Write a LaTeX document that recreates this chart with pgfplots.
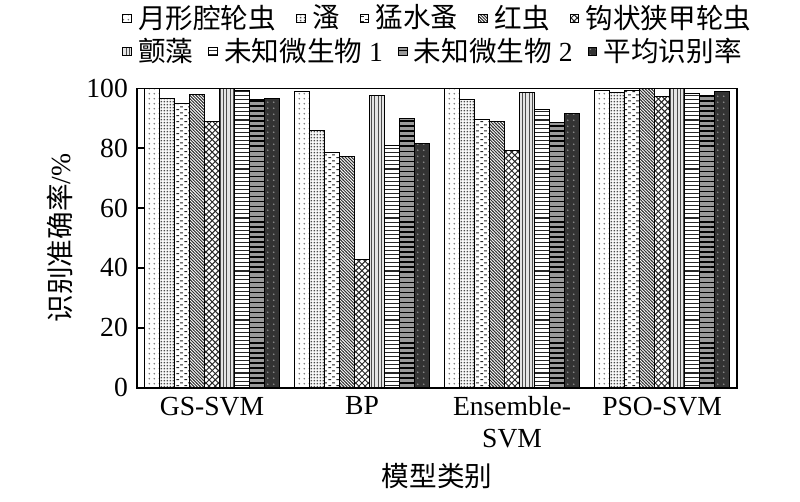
\documentclass[border=0pt,11pt]{standalone}
\usepackage{fontspec}
\setmainfont{Liberation Serif}
\newfontfamily\cjk{Noto Sans CJK SC}
\usepackage{pgfplots}
\pgfplotsset{compat=1.18}
\usetikzlibrary{patterns}

\pgfdeclarepatternformonly{pA}{\pgfqpoint{0pt}{0pt}}{\pgfqpoint{2.2pt}{2.2pt}}{\pgfqpoint{2.2pt}{2.2pt}}{\pgfpathcircle{\pgfqpoint{1.1pt}{1.1pt}}{0.4pt}\pgfusepath{fill}}
\pgfdeclarepatternformonly{pB}{\pgfqpoint{0pt}{0pt}}{\pgfqpoint{1.4pt}{1.4pt}}{\pgfqpoint{1.4pt}{1.4pt}}{\pgfpathrectangle{\pgfqpoint{0.35pt}{0.35pt}}{\pgfqpoint{0.7pt}{0.7pt}}\pgfusepath{fill}}
\pgfdeclarepatternformonly{pC}{\pgfqpoint{0pt}{0pt}}{\pgfqpoint{3.2pt}{2.4pt}}{\pgfqpoint{3.2pt}{2.4pt}}{\pgfsetlinewidth{0.45pt}\pgfpathmoveto{\pgfqpoint{0.2pt}{0.6pt}}\pgfpathlineto{\pgfqpoint{1.4pt}{0.6pt}}\pgfpathmoveto{\pgfqpoint{1.8pt}{1.8pt}}\pgfpathlineto{\pgfqpoint{3.0pt}{1.8pt}}\pgfusepath{stroke}}
\pgfdeclarepatternformonly{pD}{\pgfqpoint{-0.5pt}{-0.5pt}}{\pgfqpoint{1.8pt}{1.8pt}}{\pgfqpoint{1.3pt}{1.3pt}}{\pgfsetlinewidth{0.4pt}\pgfpathmoveto{\pgfqpoint{-0.1pt}{1.4pt}}\pgfpathlineto{\pgfqpoint{1.4pt}{-0.1pt}}\pgfusepath{stroke}}
\pgfdeclarepatternformonly{pE}{\pgfqpoint{-0.2pt}{-0.2pt}}{\pgfqpoint{2.8pt}{2.8pt}}{\pgfqpoint{2.6pt}{2.6pt}}{\pgfsetlinewidth{0.4pt}\pgfpathmoveto{\pgfqpoint{0pt}{0pt}}\pgfpathlineto{\pgfqpoint{2.6pt}{2.6pt}}\pgfpathmoveto{\pgfqpoint{0pt}{2.6pt}}\pgfpathlineto{\pgfqpoint{2.6pt}{0pt}}\pgfusepath{stroke}}
\pgfdeclarepatternformonly{pF}{\pgfqpoint{0pt}{-0.1pt}}{\pgfqpoint{1.4pt}{1.1pt}}{\pgfqpoint{1.4pt}{1pt}}{\pgfsetlinewidth{0.4pt}\pgfpathmoveto{\pgfqpoint{0.7pt}{-0.1pt}}\pgfpathlineto{\pgfqpoint{0.7pt}{1.1pt}}\pgfusepath{stroke}}
\pgfdeclarepatternformonly{pG}{\pgfqpoint{-0.1pt}{0pt}}{\pgfqpoint{1.1pt}{1.7pt}}{\pgfqpoint{1pt}{1.7pt}}{\pgfsetlinewidth{0.45pt}\pgfpathmoveto{\pgfqpoint{-0.1pt}{0.85pt}}\pgfpathlineto{\pgfqpoint{1.1pt}{0.85pt}}\pgfusepath{stroke}}
\pgfdeclarepatternformonly{pH}{\pgfqpoint{-0.1pt}{0pt}}{\pgfqpoint{1.1pt}{2.1pt}}{\pgfqpoint{1pt}{2.1pt}}{\pgfsetlinewidth{0.6pt}\pgfpathmoveto{\pgfqpoint{-0.1pt}{1.05pt}}\pgfpathlineto{\pgfqpoint{1.1pt}{1.05pt}}\pgfusepath{stroke}}
\pgfdeclarepatternformonly{pI}{\pgfqpoint{0pt}{0pt}}{\pgfqpoint{2.4pt}{2.4pt}}{\pgfqpoint{2.4pt}{2.4pt}}{\pgfpathcircle{\pgfqpoint{1.2pt}{1.2pt}}{0.35pt}\pgfusepath{fill}}

\pgfplotsset{
  mylegend/.style={legend image code/.code={\draw[##1,draw=black,line width=0.3pt] (0pt,-1.8pt) rectangle (3.6pt,1.8pt);}},
  sbase/.style={draw=black, line width=0.4pt, mylegend},
  s1/.style={sbase, fill=white, postaction={pattern=pA, pattern color=black!55}},
  s2/.style={sbase, fill=white, postaction={pattern=pB, pattern color=black!70}},
  s3/.style={sbase, fill=white, postaction={pattern=pC, pattern color=black!85}},
  s4/.style={sbase, fill=white, postaction={pattern=pD, pattern color=black!80}},
  s5/.style={sbase, fill=white, postaction={pattern=pE, pattern color=black!85}},
  s6/.style={sbase, fill=black!10, postaction={pattern=pF, pattern color=black!70}},
  s7/.style={sbase, fill=white, postaction={pattern=pG, pattern color=black!85}},
  s8/.style={sbase, fill=black!40, postaction={pattern=pH, pattern color=black}},
  s9/.style={sbase, fill=black!80, postaction={pattern=pI, pattern color=black!45}},
  mylegstyle/.style={draw=none, fill=none, inner sep=0pt, outer sep=0pt,
     at={(0,1)}, anchor=west, font=\fontsize{11.5}{13}\selectfont,
     /tikz/every odd column/.append style={column sep=0.8pt}},
}

\begin{document}
\begin{tikzpicture}
\begin{axis}[name=main, scale only axis, width=250pt, height=124.6pt,
  ybar=0pt, bar width=0.1,
  xmin=-0.5, xmax=3.5, ymin=0, ymax=100,
  xtick={0,1,2,3}, xticklabels={GS-SVM,BP,{Ensemble-\\SVM},PSO-SVM},
  xticklabel style={align=center, font=\fontsize{11.5}{13.3}\selectfont},
  x tick style={draw=none},
  ytick={0,20,...,100}, ytick pos=left, tick align=inside, major tick length=3pt,
  yticklabel style={font=\fontsize{11.5}{13}\selectfont},
  /pgf/number format/assume math mode=true,
  axis line style={line width=0.8pt},
  y tick style={line width=0.8pt, black},
  ylabel={{\cjk 识别准确率}/\%}, xlabel={\cjk 模型类别},
  label style={font=\fontsize{11.5}{13}\selectfont},
  xlabel style={at={(axis description cs:0.5,-0.297)}, anchor=center},
  ylabel style={at={(axis description cs:-0.128,0.5)}, anchor=center},
  legend columns=-1, legend cell align=left,
  legend style={mylegstyle, xshift=-6.25pt, yshift=29.2pt,
     /tikz/every even column/.append style={column sep=6.3pt}},
]
\addplot[s1] coordinates {(0,100) (1,99.0) (2,100) (3,99.3)};
\addlegendentry{\cjk 月形腔轮虫}
\addplot[s2] coordinates {(0,96.5) (1,85.9) (2,96.2) (3,98.7)};
\addlegendentry{\cjk 溞}
\addplot[s3] coordinates {(0,95.1) (1,78.7) (2,89.5) (3,99.2)};
\addlegendentry{\cjk 猛水蚤}
\addplot[s4] coordinates {(0,97.9) (1,77.3) (2,89.0) (3,100)};
\addlegendentry{\cjk 红虫}
\addplot[s5] coordinates {(0,89.0) (1,42.9) (2,79.3) (3,97.3)};
\addlegendentry{\cjk 钩状狭甲轮虫}
\addplot[s6] coordinates {(0,100) (1,97.7) (2,98.7) (3,100)};
\addplot[s7] coordinates {(0,99.3) (1,81.0) (2,92.9) (3,98.2)};
\addplot[s8] coordinates {(0,96.4) (1,89.9) (2,88.6) (3,97.7)};
\addplot[s9] coordinates {(0,96.5) (1,81.5) (2,91.7) (3,99.0)};
\end{axis}
\begin{axis}[at={(main.south west)}, anchor=south west, scale only axis,
  width=250pt, height=124.6pt, hide axis, xmin=0, xmax=1, ymin=0, ymax=1,
  legend columns=-1, legend cell align=left,
  legend style={mylegstyle, xshift=-6.25pt, yshift=15.4pt,
     /tikz/every even column/.append style={column sep=4.2pt}}]
\addlegendimage{s6}\addlegendentry{\cjk 颤藻}
\addlegendimage{s7}\addlegendentry{{\cjk 未知微生物} 1}
\addlegendimage{s8}\addlegendentry{{\cjk 未知微生物} 2}
\addlegendimage{s9}\addlegendentry{\cjk 平均识别率}
\end{axis}
\path ([shift={(-57.1pt,-47.5pt)}]main.south west) rectangle ([shift={(276.2pt,158.75pt)}]main.south west);
\end{tikzpicture}
\end{document}
